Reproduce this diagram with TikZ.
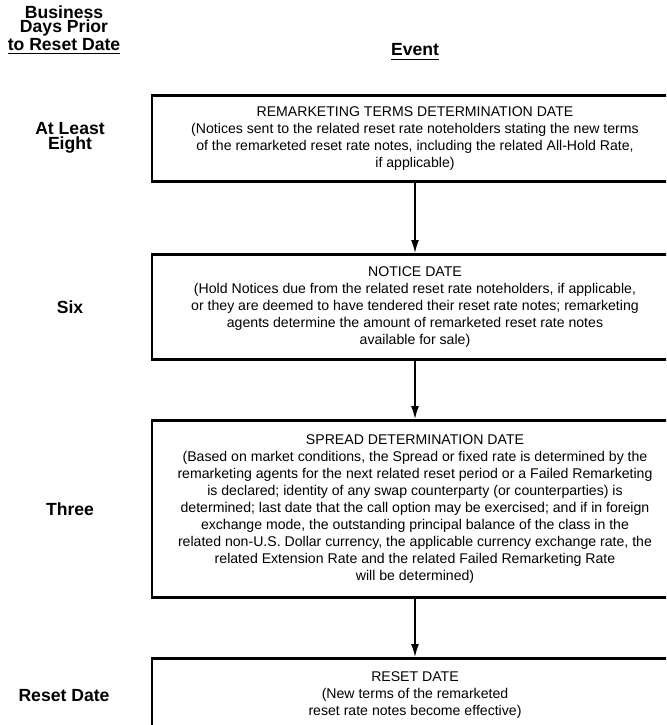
\documentclass[tikz,border=0pt]{standalone}
\usepackage{fontspec}
\setmainfont{Liberation Sans}
\usetikzlibrary{arrows.meta}

\begin{document}
\begin{tikzpicture}[x=0.5pt,y=-0.5pt,
 every node/.style={inner sep=0pt,align=center},
 headlabel/.style={font=\bfseries\fontsize{8.8}{7.3}\selectfont},
 daylabel/.style={font=\bfseries\fontsize{8.8}{7.5}\selectfont},
 eventbox/.style={draw=black,line width=1.3pt,minimum width=263pt,anchor=north,font=\fontsize{7.05}{8.5}\selectfont},
 flowarrow/.style={line width=0.7pt,-{Latex[length=6.5pt,width=4pt]}},
]
    \useasboundingbox (0,0) rectangle (666,725);
    \clip (0,0) rectangle (666,725);
    \coordinate (daycol) at (70,0);
    \node[headlabel] (dayshead) at (64,30) {Business\\Days Prior\\\underline{to Reset Date}};
    \node[headlabel] (eventhead) at (415,52) {\underline{Event}};
    % event boxes
    \node[eventbox,minimum height=43pt] (rtdd) at (415,94) {REMARKETING TERMS DETERMINATION DATE\\(Notices sent to the related reset rate noteholders stating the new terms\\of the remarketed reset rate notes, including the related All-Hold Rate,\\if applicable)};
    \node[eventbox,minimum height=52.5pt] (noticed) at (415,253) {NOTICE DATE\\(Hold Notices due from the related reset rate noteholders, if applicable,\\or they are deemed to have tendered their reset rate notes; remarketing\\agents determine the amount of remarketed reset rate notes\\available for sale)};
    \node[eventbox,minimum height=88.5pt] (spreadd) at (415,419) {SPREAD DETERMINATION DATE\\(Based on market conditions, the Spread or fixed rate is determined by the\\remarketing agents for the next related reset period or a Failed Remarketing\\is declared; identity of any swap counterparty (or counterparties) is\\determined; last date that the call option may be exercised; and if in foreign\\exchange mode, the outstanding principal balance of the class in the\\related non-U.S. Dollar currency, the applicable currency exchange rate, the\\related Extension Rate and the related Failed Remarketing Rate\\will be determined)};
    \node[eventbox,minimum height=37pt] (resetd) at (415,657) {RESET DATE\\(New terms of the remarketed\\reset rate notes become effective)};
    % business days column
    \node[daylabel] (eight) at (daycol |- rtdd) {At Least\\Eight};
    \node[daylabel] (six) at (daycol |- noticed) {Six};
    \node[daylabel] (three) at (daycol |- spreadd) {Three};
    \node[daylabel,xshift=-3] (zero) at (daycol |- resetd) {Reset Date};
    \draw[flowarrow] (rtdd) -- (noticed);
    \draw[flowarrow] (noticed) -- (spreadd);
    \draw[flowarrow] (spreadd) -- (resetd);
\end{tikzpicture}
\end{document}
